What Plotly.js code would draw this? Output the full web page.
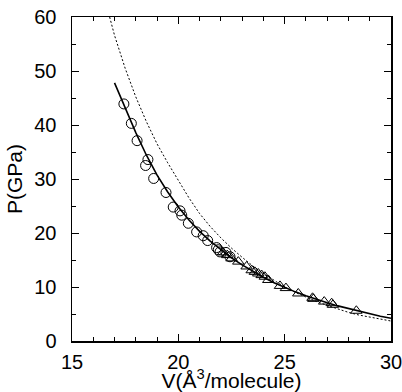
<!DOCTYPE html>
<html>
<head>
<meta charset="utf-8">
<script src="https://cdn.plot.ly/plotly-3.0.1.min.js"></script>
<style>html,body{margin:0;padding:0;background:#fff;}#chart{width:402px;height:392px;}</style>
</head>
<body>
<div id="chart"></div>
<script>
// Circles (data set 1)
const circleV = [17.44, 17.79, 18.06, 18.57, 18.46, 18.84, 19.42, 19.76, 20.08, 20.16, 20.47, 20.86, 21.17, 21.38, 21.80, 21.88, 21.96, 22.24, 22.43];
const circleP = [43.9, 40.3, 37.1, 33.6, 32.5, 30.1, 27.5, 24.8, 24.1, 23.3, 21.8, 20.2, 19.5, 18.6, 17.3, 16.9, 16.5, 16.4, 15.6];

// Triangles (data set 2)
const triV = [22.1, 22.3, 22.5, 22.82, 23.21, 23.45, 23.60, 23.76, 23.92, 24.07, 24.23, 24.78, 25.06, 25.64, 26.31, 26.35, 26.86, 27.21, 27.27, 28.37];
const triP = [16.4, 15.9, 15.3, 14.7, 13.8, 13.1, 12.8, 12.5, 12.2, 11.9, 11.3, 10.2, 9.8, 8.8, 8.0, 7.8, 7.3, 7.0, 6.7, 5.6];

// Solid fit curve
const fitV = [17.0, 17.5, 18.0, 18.5, 19.0, 19.5, 20.0, 20.5, 21.0, 21.5, 22.0, 22.5, 23.0, 23.5, 24.0, 24.5, 25.0, 25.5, 26.0, 26.5, 27.0, 27.5, 28.0, 28.5, 29.0, 29.5, 30.0];
const fitP = [47.8, 43.2, 38.6, 34.4, 30.7, 27.6, 24.8, 22.4, 20.3, 18.5, 16.9, 15.4, 14.1, 12.9, 11.8, 10.8, 9.9, 9.1, 8.4, 7.7, 7.1, 6.5, 6.0, 5.5, 5.0, 4.6, 4.2];

// Dotted curve
const dotV = [16.77, 17.0, 17.5, 18.0, 18.5, 19.0, 19.5, 20.0, 20.5, 21.0, 21.5, 22.0, 22.5, 23.0, 23.5, 24.0, 24.5, 25.0, 25.5, 26.0, 26.5, 27.0, 27.5, 28.0, 28.5, 29.0, 29.5, 30.0];
const dotP = [60.0, 56.6, 50.5, 45.2, 40.6, 36.5, 33.0, 29.8, 26.5, 23.6, 21.2, 19.1, 17.2, 15.5, 13.9, 12.5, 11.2, 10.0, 9.0, 8.1, 7.3, 6.6, 5.9, 5.3, 4.8, 4.4, 4.0, 3.7];

const xTickVals = [15, 20, 25, 30];
const yTickVals = [0, 10, 20, 30, 40, 50, 60];

const traces = [
  {x: dotV, y: dotP, mode: 'lines', line: {color: '#000', width: 1, dash: '2px,2px'}, hoverinfo: 'skip'},
  {x: fitV, y: fitP, mode: 'lines', line: {color: '#000', width: 1.6}, hoverinfo: 'skip'},
  {x: circleV, y: circleP, mode: 'markers', marker: {symbol: 'circle-open', size: 10, color: '#000', line: {width: 1, color: '#000'}}},
  {x: triV, y: triP, mode: 'markers', marker: {symbol: 'triangle-up-open', size: 10, color: '#000', line: {width: 1, color: '#000'}}}
];

const font = {family: 'Liberation Sans, Arial, sans-serif', color: '#000'};

const layout = {
  width: 402, height: 392,
  margin: {l: 72, r: 11, t: 17, b: 51, pad: 0},
  paper_bgcolor: '#fff', plot_bgcolor: '#fff',
  showlegend: false,
  font: font,
  xaxis: {
    range: [15, 30], tickvals: xTickVals, ticks: 'inside', ticklen: 7, tickwidth: 1, tickcolor: '#000',
    minor: {dtick: 1, ticks: 'inside', ticklen: 4, tickwidth: 1, tickcolor: '#000', showgrid: false},
    showline: true, linecolor: '#000', linewidth: 1.5, mirror: 'ticks',
    showgrid: false, zeroline: false,
    tickfont: {family: font.family, size: 20, color: '#000'},
    ticklabelstandoff: 2, ticklabeloverflow: 'allow',
    title: {text: 'V(Å<sup>3</sup>/molecule)', font: {family: font.family, size: 21, color: '#000'}, standoff: 0},
    automargin: false, fixedrange: true
  },
  yaxis: {
    range: [0, 60], tickvals: yTickVals, ticks: 'inside', ticklen: 7, tickwidth: 1, tickcolor: '#000',
    minor: {dtick: 5, ticks: 'inside', ticklen: 4, tickwidth: 1, tickcolor: '#000', showgrid: false},
    showline: true, linecolor: '#000', linewidth: 1.5, mirror: 'ticks',
    showgrid: false, zeroline: false,
    tickfont: {family: font.family, size: 20, color: '#000'},
    ticklabelstandoff: 10, ticklabeloverflow: 'allow',
    title: {text: 'P(GPa)', font: {family: font.family, size: 21, color: '#000'}, standoff: 6},
    automargin: false, fixedrange: true
  }
};

Plotly.newPlot('chart', traces, layout, {staticPlot: true, displayModeBar: false});
</script>
</body>
</html>
